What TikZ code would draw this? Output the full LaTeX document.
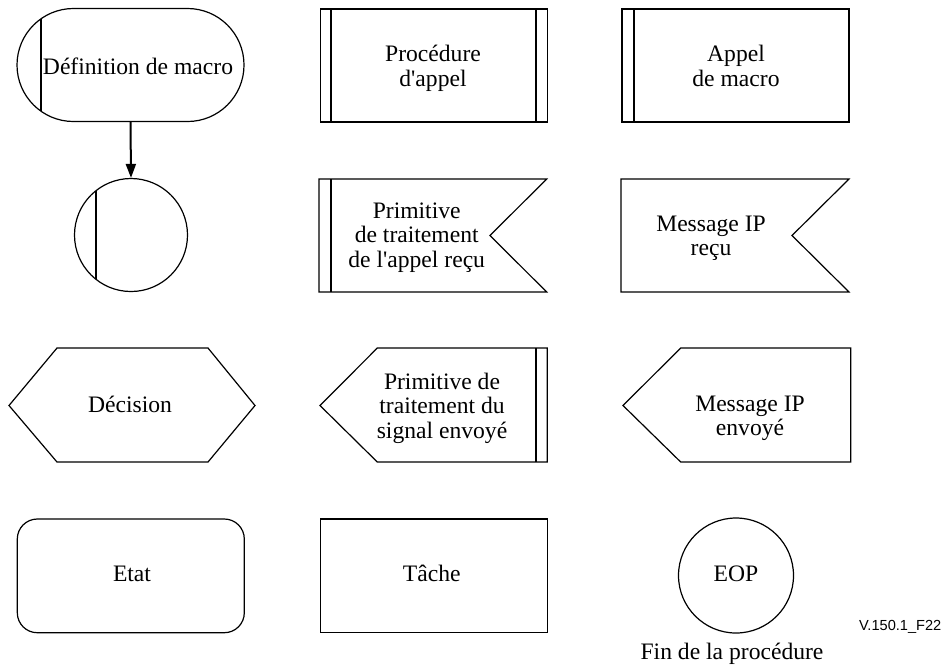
\documentclass[tikz,border=0pt]{standalone}
\usepackage{fontspec}
\setmainfont{Liberation Serif}
\newfontfamily\labelsans{Liberation Sans}
\usetikzlibrary{shapes.misc,arrows.meta}
\begin{document}
\begin{tikzpicture}[x=0.5pt,y=-0.5pt,
  outline/.style={draw=black,line width=0.6pt,line join=miter},
  bar/.style={draw=black,line width=1.2pt},
  % multi-line labels are placed by the baseline of their last line
  lbl/.style={font=\fontsize{11.8pt}{12.15pt}\selectfont,align=center,inner sep=0pt,anchor=base},
  flow/.style={draw=black,line width=1pt,-{Triangle[length=7pt,width=5pt]}},
  ]
\useasboundingbox (0,0) rectangle (945,666);

% Row 1: macro definition, procedure call, macro call
\node[outline,rounded rectangle,minimum width=113.5pt,minimum height=56.5pt,inner sep=0pt] (macrodef) at (130.5,65) {};
\draw[bar] (41,18.8) -- (41,111.2);
\node[lbl] (tmacrodef) at (138,74) {Définition de macro};

\draw[outline] (320.7,9) rectangle (547.7,122);
\draw[bar] (330.7,9) -- (330.7,122);
\draw[bar] (536,9) -- (536,122);
\node[lbl] (tproc) at (433,86) {Procédure\\d\textquotesingle appel};

\draw[outline] (622,9) rectangle (849,122);
\draw[bar] (633.7,9) -- (633.7,122);
\node[lbl] (tmacrocall) at (736,86) {Appel\\de macro};

% Row 2: macro connector, received primitive, received IP message
\node[outline,circle,minimum size=56.5pt,inner sep=0pt] (macroref) at (131,235) {};
\draw[bar] (96,190.7) -- (96,279.3);
\draw[flow] (macrodef.south) -- (macroref.north);

\draw[outline] (319,179) -- (546.7,179) -- (490,235.5) -- (546.7,292) -- (319,292) -- cycle;
\draw[bar] (330.7,179) -- (330.7,292);
\node[lbl] (tprimin) at (416.7,267) {Primitive\\de traitement\\de l\textquotesingle appel reçu};

\draw[outline] (621,179) -- (849,179) -- (792,235.5) -- (849,292) -- (621,292) -- cycle;
\node[lbl] (tipin) at (711,255.5) {Message IP\\reçu};

% Row 3: decision, sent primitive, sent IP message
\draw[outline] (9,405.5) -- (57,348) -- (208,348) -- (255,405.5) -- (208,462) -- (57,462) -- cycle;
\node[lbl] (tdecision) at (130,412) {Décision};

\draw[outline] (320,405.5) -- (377.3,348) -- (547.3,348) -- (547.3,462) -- (377.3,462) -- cycle;
\draw[bar] (535.7,348) -- (535.7,462);
\node[lbl] (tprimout) at (442,438) {Primitive de\\traitement du\\signal envoyé};

\draw[outline] (623,405.5) -- (680.7,348) -- (850.7,348) -- (850.7,462) -- (680.7,462) -- cycle;
\node[lbl] (tipout) at (750,435.5) {Message IP\\envoyé};

% Row 4: state, task, end of procedure
\draw[outline,rounded corners=10pt] (17.3,519) rectangle (244.3,632.7);
\node[lbl] (tstate) at (132,581.7) {Etat};

\draw[outline] (320.7,519) rectangle (547.3,632.7);
\node[lbl] (ttask) at (431.7,581.7) {Tâche};

\node[outline,circle,minimum size=57.5pt,inner sep=0pt] (eop) at (736,575.5) {};
\node[lbl] (teop) at (736,581.7) {EOP};
\node[lbl] (tend) at (732,659) {Fin de la procédure};

\node[font=\labelsans\fontsize{7.3pt}{8.8pt}\selectfont,inner sep=0pt,anchor=base east] (figid) at (941.7,630) {V.150.1\_F22};
\end{tikzpicture}
\end{document}
